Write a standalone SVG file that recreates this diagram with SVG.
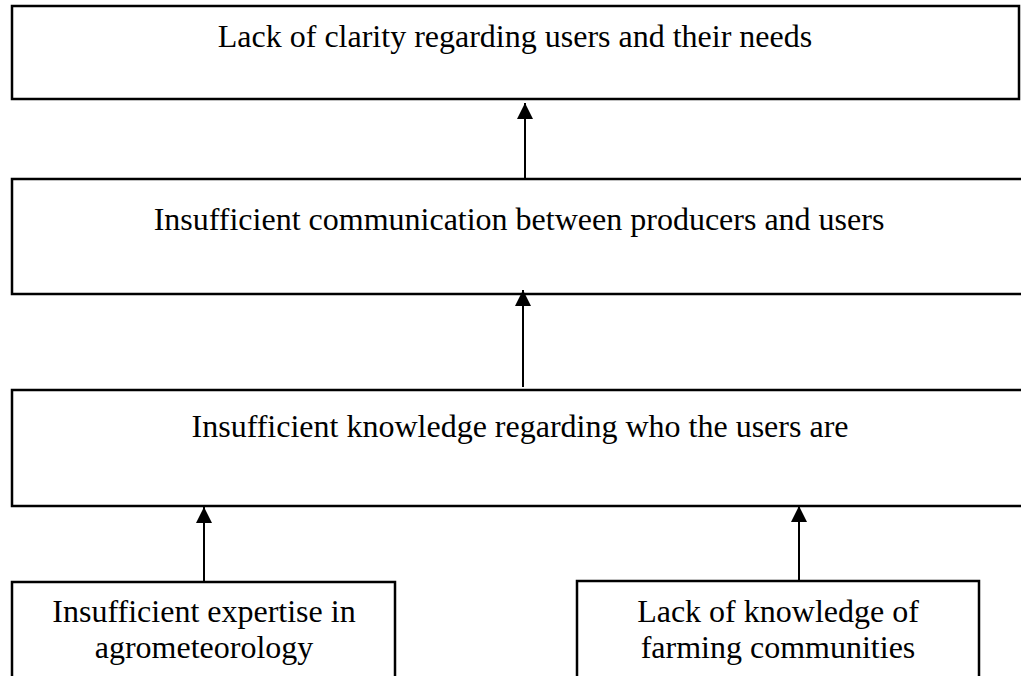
<svg xmlns="http://www.w3.org/2000/svg" width="1021" height="676" viewBox="0 0 1021 676">
<defs>
<marker id="ah" markerUnits="userSpaceOnUse" markerWidth="16" markerHeight="18" refX="16" refY="8" orient="auto" viewBox="0 0 16 16">
<path d="M0,0 L16,8 L0,16 Z" fill="#000"/>
</marker>
</defs>
<style>
.box{fill:#fff;stroke:#000;stroke-width:2.5}
.t{font-family:"Liberation Serif","Times New Roman",serif;font-size:32px;fill:#000;text-anchor:middle}
.c{stroke:#000;stroke-width:2;fill:none}
</style>
<rect width="1021" height="676" fill="#fff"/>
<g id="n1">
<rect class="box" x="12" y="6" width="1007" height="93"/>
<text class="t" x="515" y="47">Lack of clarity regarding users and their needs</text>
</g>
<g id="n2">
<rect class="box" x="12" y="179" width="1020" height="115"/>
<text class="t" x="519" y="230">Insufficient communication between producers and users</text>
</g>
<g id="n3">
<rect class="box" x="12" y="390" width="1020" height="116"/>
<text class="t" x="520" y="437">Insufficient knowledge regarding who the users are</text>
</g>
<g id="n4">
<rect class="box" x="12" y="582" width="383" height="110"/>
<text class="t" x="204" y="622">Insufficient expertise in</text>
<text class="t" x="204" y="658">agrometeorology</text>
</g>
<g id="n5">
<rect class="box" x="577" y="581" width="402" height="110"/>
<text class="t" x="778" y="622">Lack of knowledge of</text>
<text class="t" x="778" y="658">farming communities</text>
</g>
<g id="connectors">
<line class="c" x1="525" y1="179" x2="525" y2="103" marker-end="url(#ah)"/>
<line class="c" x1="523" y1="387" x2="523" y2="290" marker-end="url(#ah)"/>
<line class="c" x1="204" y1="582" x2="204" y2="507" marker-end="url(#ah)"/>
<line class="c" x1="799" y1="581" x2="799" y2="506" marker-end="url(#ah)"/>
</g>
</svg>
